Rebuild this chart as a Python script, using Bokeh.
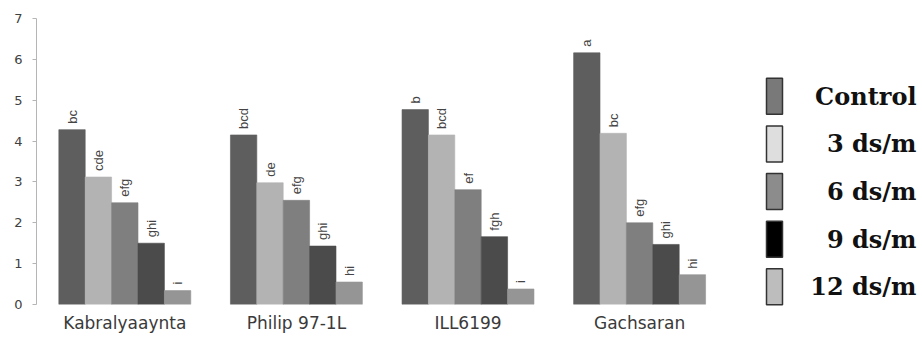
import numpy as np
from bokeh.plotting import figure
from bokeh.models import ColumnDataSource, FixedTicker, Range1d
from bokeh.layouts import row
from bokeh.transform import dodge
from bokeh.core.properties import value
from bokeh.embed import file_html
from bokeh.resources import INLINE

# ---------------- data ----------------
cultivars = ["Kabralyaaynta", "Philip 97-1L", "ILL6199", "Gachsaran"]
treatments = ["Control", "3 ds/m", "6 ds/m", "9 ds/m", "12 ds/m"]

control = [4.28, 4.15, 4.77, 6.16]
ds3 = [3.12, 2.98, 4.15, 4.19]
ds6 = [2.49, 2.55, 2.81, 2.00]
ds9 = [1.50, 1.43, 1.66, 1.47]
ds12 = [0.34, 0.55, 0.38, 0.73]

letters_control = ["bc", "bcd", "b", "a"]
letters_3 = ["cde", "de", "bcd", "bc"]
letters_6 = ["efg", "efg", "ef", "efg"]
letters_9 = ["ghi", "ghi", "fgh", "ghi"]
letters_12 = ["i", "hi", "i", "hi"]

y_ticks = [0, 1, 2, 3, 4, 5, 6, 7]

series = [control, ds3, ds6, ds9, ds12]
letters = [letters_control, letters_3, letters_6, letters_9, letters_12]

# ---------------- styles ----------------
bar_colors = ["#5e5e5e", "#b3b3b3", "#7f7f7f", "#4b4b4b", "#959595"]
legend_colors = ["#797979", "#dedede", "#8c8c8c", "#000000", "#bdbdbd"]
bar_w = 0.1538

p = figure(frame_width=704, frame_height=286,
           x_range=Range1d(-0.5146, 3.588), y_range=Range1d(0, 7),
           output_backend="svg", toolbar_location=None,
           min_border_left=36, min_border_right=0, min_border_top=18,
           min_border_bottom=0)
p.outline_line_color = None
p.xgrid.visible = False
p.ygrid.visible = False
p.background_fill_color = "white"

x_idx = list(range(len(cultivars)))
for j, (vals, labs) in enumerate(zip(series, letters)):
    src = ColumnDataSource(dict(x=x_idx, top=vals, lab=labs))
    off = (j - 2) * bar_w
    p.vbar(x=dodge("x", off, range=p.x_range), top="top", bottom=0, width=bar_w,
           source=src, fill_color=bar_colors[j], line_color=bar_colors[j],
           line_width=0.6)
    p.text(x=dodge("x", off, range=p.x_range), y="top", text="lab", source=src,
           angle=np.pi / 2, text_align="left", text_baseline="middle",
           y_offset=-6, text_font=value("Liberation Sans"),
           text_font_size="13px", text_color="#444444")

# y axis
ya = p.yaxis[0]
ya.ticker = FixedTicker(ticks=y_ticks)
ya.axis_line_color = "#b5b5b5"
ya.major_tick_line_color = "#b5b5b5"
ya.major_tick_out = 4
ya.major_tick_in = 0
ya.minor_tick_line_color = None
ya.major_label_standoff = 10
ya.major_label_text_font = "DejaVu Sans"
ya.major_label_text_font_size = "13px"
ya.major_label_text_color = "#404040"

# x axis
xa = p.xaxis[0]
xa.ticker = FixedTicker(ticks=x_idx)
xa.major_label_overrides = {i: c for i, c in zip(x_idx, cultivars)}
xa.axis_line_color = None
xa.major_tick_line_color = None
xa.minor_tick_line_color = None
xa.major_tick_out = 0
xa.major_label_standoff = 8
xa.major_label_text_font = "DejaVu Sans"
xa.major_label_text_font_size = "17px"
xa.major_label_text_color = "#3a3a3a"

# ---------------- legend panel ----------------
leg = figure(width=182, height=337, x_range=Range1d(0, 182),
             y_range=Range1d(4.413, -1.632), output_backend="svg",
             toolbar_location=None, min_border=0)
leg.axis.visible = False
leg.xgrid.visible = False
leg.ygrid.visible = False
leg.outline_line_color = None
idx = list(range(len(treatments)))
leg.rect(x=34, y=idx, width=16, height=36, width_units="screen",
         height_units="screen", fill_color=legend_colors,
         line_color="#333333", line_width=1.5)
leg.text(x=176, y=idx, text=treatments, text_align="right",
         text_baseline="middle", text_font=value("DejaVu Serif"),
         text_font_style="bold", text_font_size="24px", text_color="#111111")

layout = row(p, leg)
open("out.html", "w").write(file_html(layout, INLINE))
